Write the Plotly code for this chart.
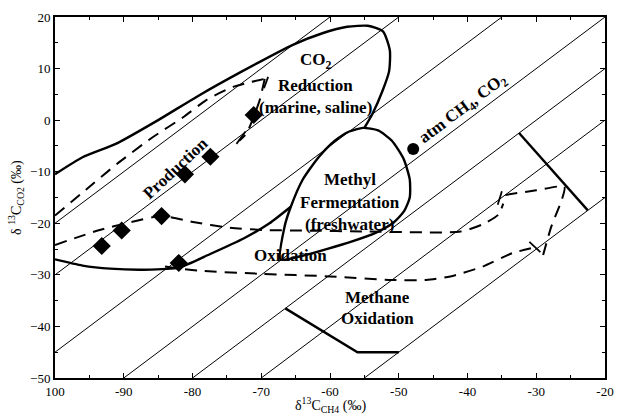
import plotly.graph_objects as go

# Isotope-separation lines: delta13C-CO2 = delta13C-CH4 + eps
EPS = [80, 70, 55, 40, 30, 20, 5]

# CO2 reduction envelope (thick solid)
co2_env_x = [-100, -96, -91, -85, -79.3, -73, -65.4, -61, -57.5, -54.5, -52.3, -51.3, -51.4, -52.3, -53.8, -55]
co2_env_y = [-10.5, -7.2, -4.5, 0.0, 4.6, 9.3, 14.6, 16.9, 18.1, 18.3, 17.2, 13.6, 9.5, 5.9, 1.3, -1.5]

# Methyl fermentation loop (thick solid)
loop_x = [-67.2, -66.6, -65.7, -64, -61.6, -59.2, -57.2, -55.2, -53, -51, -49.3, -48.4, -48.4, -49.2, -50.7, -53.3, -57, -60.5, -64, -67.2]
loop_y = [-27, -20.6, -16.8, -11.6, -7.1, -3.9, -2.2, -1.5, -2.0, -4.0, -7.5, -11.5, -15, -17.6, -19.8, -21.8, -23.6, -25.0, -26.3, -27]

# Lower envelope (thick solid)
low_env_x = [-100, -96, -92, -87, -82, -77.5, -72.5, -68.8, -65.7]
low_env_y = [-27, -28.2, -28.8, -29, -28.6, -26, -22.9, -20.0, -16.8]

# Right thick segment and methane-oxidation bottom segment
seg_r_x = [-32.5, -22.5]
seg_r_y = [-2.5, -17.5]
seg_b_x = [-66.5, -61, -56, -50]
seg_b_y = [-36.5, -41, -45, -45]

# Dashed trend lines
dA_x = [-100, -95.5, -91, -86, -81.2, -78, -74, -69.5]
dA_y = [-18.5, -13.5, -8.5, -3.5, 0.7, 3.9, 6.5, 8.0]
dB_x = [-69.5, -70.2, -71, -72.1, -73.2]
dB_y = [8.0, 4.0, 1.0, -2.5, -4.0]
dC_x = [-100, -93.5, -89, -84.5, -79.7, -75, -69.7, -64, -54.5, -41, -37.8, -35.5, -34.8]
dC_y = [-24.2, -21.3, -19.8, -18.6, -19.8, -20.8, -21.3, -21.4, -21.6, -21.6, -20.2, -18.3, -16.2]
dD_x = [-34.5, -30, -25.9, -26.3, -27.8, -29.2]
dD_y = [-14.5, -13.6, -12.9, -15.5, -20.6, -27.1]
dE_x = [-84, -79, -70, -60, -51, -46, -42.5, -37.8, -33.5, -30]
dE_y = [-28.4, -29.2, -29.8, -30.3, -31, -31, -30.3, -28.4, -25.8, -24.6]

# Small arrow-tip marks on dashed lines
tick_marks = [
    ([-69.6, -69.0], [6.2, 8.4]),
    ([-73.6, -72.3], [-4.6, -2.2]),
    ([-35.6, -35.0], [-16.4, -13.8]),
    ([-31.0, -29.4], [-23.6, -25.6]),
]

# Data points
dia_x = [-71.1, -77.4, -81.1, -84.5, -90.3, -93.2, -82.0]
dia_y = [1.0, -7.1, -10.5, -18.6, -21.4, -24.4, -27.7]
atm_x = [-47.9]
atm_y = [-5.6]

x_ticks = [-100, -90, -80, -70, -60, -50, -40, -30, -20]
x_ticktext = ["100", "-90", "-80", "-70", "-60", "-50", "-40", "-30", "-20"]
y_ticks = [20, 10, 0, -10, -20, -30, -40, -50]

FONT = "Liberation Serif, Times New Roman, serif"

fig = go.Figure()

for e in EPS:
    xs = [-110, -10]
    fig.add_trace(go.Scatter(x=xs, y=[v + e for v in xs], mode="lines",
                             line=dict(color="black", width=1), hoverinfo="skip"))

def thick(x, y, w=2.4, shape="spline", dash="solid", sm=0.6):
    fig.add_trace(go.Scatter(x=x, y=y, mode="lines",
                             line=dict(color="black", width=w, shape=shape, smoothing=sm, dash=dash),
                             hoverinfo="skip"))

thick(co2_env_x, co2_env_y)
thick(loop_x, loop_y)
thick(low_env_x, low_env_y)
thick(seg_r_x, seg_r_y, shape="linear")
thick(seg_b_x, seg_b_y, shape="linear")

DASH = "12px,8px"
for xs, ys in [(dA_x, dA_y), (dB_x, dB_y), (dC_x, dC_y), (dD_x, dD_y), (dE_x, dE_y)]:
    thick(xs, ys, w=2, dash=DASH)

for xs, ys in tick_marks:
    thick(xs, ys, w=1.8, shape="linear")

fig.add_trace(go.Scatter(x=dia_x, y=dia_y, mode="markers",
                         marker=dict(symbol="diamond", size=14, color="black"), hoverinfo="skip"))
fig.add_trace(go.Scatter(x=atm_x, y=atm_y, mode="markers",
                         marker=dict(symbol="circle", size=12, color="black"), hoverinfo="skip"))

def note(x, y, text, angle=0, size=17):
    fig.add_annotation(x=x, y=y, text=text, showarrow=False, textangle=angle,
                       font=dict(family=FONT, size=size, color="black"))

note(-62.1, 11.5, "<b>CO<sub>2</sub></b>")
note(-62.1, 6.8, "<b>Reduction</b>")
note(-62.1, 2.5, "<b>(marine, saline)</b>")
note(-57.1, -11.6, "<b>Methyl</b>")
note(-57.1, -15.9, "<b>Fermentation</b>")
note(-57.1, -20.3, "<b>(freshwater)</b>")
note(-65.7, -26.2, "<b>Oxidation</b>")
note(-53.1, -34.3, "<b>Methane</b>")
note(-53.1, -38.4, "<b>Oxidation</b>")
note(-82.5, -9.4, "<b>Production</b>", angle=-43)
note(-40.6, 2.2, "<b>atm CH<sub>4</sub>, CO<sub>2</sub></b>", angle=-37)

fig.add_annotation(xref="paper", yref="paper", x=0.5, y=-0.075, yanchor="middle",
                   text="δ<sup>13</sup>C<sub>CH4</sub> (‰)", showarrow=False,
                   font=dict(family=FONT, size=14, color="black"))
fig.add_annotation(xref="paper", yref="paper", x=-0.072, y=0.5, xanchor="center",
                   text="δ <sup>13</sup>C<sub>CO2</sub> (‰)", showarrow=False, textangle=-90,
                   font=dict(family=FONT, size=14, color="black"))

axis_common = dict(showgrid=False, zeroline=False, showline=True, linecolor="black", linewidth=2,
                   mirror="ticks", ticks="inside", ticklen=5, tickcolor="black", tickwidth=1,
                   tickfont=dict(family=FONT, size=13, color="black"),
                   minor=dict(ticks="inside", ticklen=3, tickcolor="black", dtick=5))

fig.update_xaxes(range=[-100, -20], tickvals=x_ticks, ticktext=x_ticktext, **axis_common)
fig.update_yaxes(range=[-50, 20], tickvals=y_ticks, **axis_common)

fig.update_layout(width=624, height=414, margin=dict(l=55, r=10, t=17, b=36),
                  paper_bgcolor="white", plot_bgcolor="white", showlegend=False)

fig.write_html("out.html")
